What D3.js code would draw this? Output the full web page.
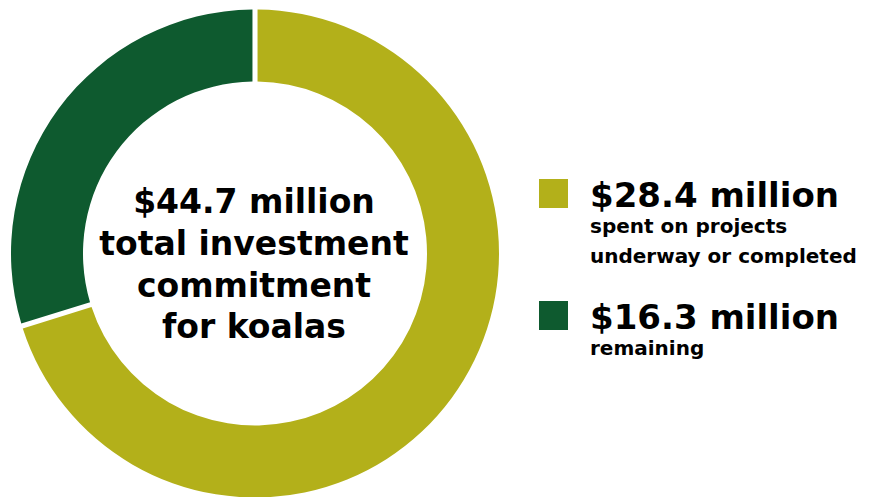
<!DOCTYPE html>
<html>
<head>
<meta charset="utf-8">
<script src="https://cdn.jsdelivr.net/npm/d3@7"></script>
<style>
  html, body { margin: 0; padding: 0; background: #fff; }
  svg text { font-family: "DejaVu Sans", sans-serif; font-weight: bold; fill: #000; }
</style>
</head>
<body>
<div class="chart"></div>
<script>
const categories = ["spent", "remaining"];
const amounts = [28.4, 16.3];
// share of the ring as drawn in the picture (the ring is not to scale with the amounts)
const ringShare = [70.2, 29.8];
const colors = ["#b3b01a", "#0e5a2f"];
const centerLines = ["$44.7 million", "total investment", "commitment", "for koalas"];
const legendNotes = [["spent on projects", "underway or completed"], ["remaining"]];

const width = 870;
const height = 497;
const cx = 255;
const cy = 253.5;
const outer = 244;
const inner = 172;

const svg = d3
  .select(".chart")
  .append("svg")
  .attr("width", width)
  .attr("height", height);

const pie = d3
  .pie()
  .sort(null)
  .value((d, i) => ringShare[i]);

const arc = d3
  .arc()
  .innerRadius(inner)
  .outerRadius(outer)
  .padAngle(0.017);

const color = d3.scaleOrdinal().domain(categories).range(colors);

svg
  .append("g")
  .attr("transform", `translate(${cx},${cy})`)
  .selectAll("path")
  .data(pie(categories))
  .join("path")
  .attr("d", arc)
  .attr("fill", (d) => color(d.data));

svg
  .append("g")
  .selectAll("text")
  .data(centerLines)
  .join("text")
  .attr("x", 254)
  .attr("y", (d, i) => 213 + i * 41.8)
  .attr("text-anchor", "middle")
  .style("font-size", "33px")
  .text((d) => d);

// legend
const rowY = [179, 301];
const legend = svg
  .append("g")
  .selectAll("g")
  .data(categories)
  .join("g")
  .attr("transform", (d, i) => `translate(539,${rowY[i]})`);

legend
  .append("rect")
  .attr("width", 29)
  .attr("height", 29)
  .attr("fill", (d) => color(d));

legend
  .append("text")
  .attr("x", 51)
  .attr("y", 28)
  .style("font-size", "34px")
  .text((d, i) => `$${amounts[i].toFixed(1)} million`);

legend.each(function (d, i) {
  d3.select(this)
    .selectAll("text.note")
    .data(legendNotes[i])
    .join("text")
    .attr("class", "note")
    .attr("x", 51)
    .attr("y", (t, j) => 54 + j * 30)
    .style("font-size", "20px")
    .text((t) => t);
});
</script>
</body>
</html>
